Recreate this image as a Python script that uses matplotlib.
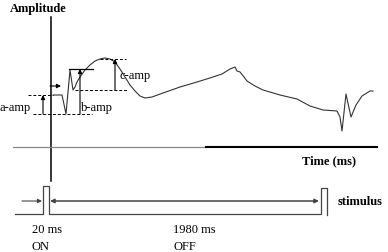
import matplotlib.pyplot as plt

# recorded response trace (x = horizontal position, y = screen height, down is positive)
trace_x = [53, 62, 66, 70, 73, 75, 77, 80, 85, 90, 95, 100, 105, 110, 115, 120, 125, 130,
           135, 140, 145, 152, 163, 180, 197, 213, 222, 230, 235, 237, 240, 244, 247, 255,
           263, 280, 297, 310, 323, 337, 340, 342, 346, 351, 356, 362, 370, 373]
trace_y = [96, 96, 115, 71, 91, 88, 83, 78, 71, 66, 62, 60, 59, 60, 63, 70, 78, 86,
           92, 97, 99, 98, 94, 88, 83, 78, 75, 70, 68, 72, 73, 78, 82, 87,
           91, 96, 100, 107, 111, 112, 118, 132, 95, 118, 106, 97, 92, 92]

# stimulus timeline: 20 ms ON, 1980 ms OFF
stim_x = [15, 43, 43, 49, 49, 321, 321, 327, 327]
stim_y = [215, 215, 187, 187, 215, 215, 189, 189, 216]

# amplitude markers: (name, x of arrow, bottom, top)
amp_names = ['a-amp', 'b-amp', 'c-amp']
amp_x = [43, 80, 115]
amp_low = [115, 115, 91]
amp_high = [96, 70, 60]

plt.rcParams['font.family'] = ['Liberation Serif', 'DejaVu Serif']

fig = plt.figure(figsize=(3.88, 2.53), dpi=100)
ax = fig.add_axes([0, 0, 1, 1])
ax.set_xlim(0, 388)
ax.set_ylim(253, 0)
ax.axis('off')

# axes of the diagram
ax.plot([51, 51], [18, 182], color='black', lw=1.1)
ax.plot([13, 206], [148, 148], color='#888888', lw=0.9)
ax.plot([206, 377], [148, 148], color='black', lw=1.5)

ax.plot(trace_x, trace_y, color='#333333', lw=0.8)

# dashed reference lines
dash = dict(color='black', lw=0.7, ls=(0, (3, 2)))
ax.plot([28, 53], [amp_high[0], amp_high[0]], **dash)
ax.plot([33, 92], [amp_low[0], amp_low[0]], **dash)
ax.plot([100, 126], [amp_high[2], amp_high[2]], **dash)
ax.plot([75, 128], [amp_low[2], amp_low[2]], **dash)
ax.plot([69, 93], [amp_high[1], amp_high[1]], color='black', lw=0.9)

arrow = dict(arrowstyle='-|>', color='black', lw=0.8, mutation_scale=6, shrinkA=0, shrinkB=0)
for x, lo, hi in zip(amp_x, amp_low, amp_high):
    ax.annotate('', xy=(x, hi), xytext=(x, lo), arrowprops=arrow)
ax.annotate('', xy=(61, 87), xytext=(50, 87), arrowprops=arrow)

ax.text(0, 108, amp_names[0], fontsize=9, va='center')
ax.text(81, 108, amp_names[1], fontsize=9, va='center')
ax.text(120, 76, amp_names[2], fontsize=9, va='center')

ax.text(10, 9, 'Amplitude', fontsize=9, fontweight='bold', va='center')
ax.text(302, 161, 'Time (ms)', fontsize=9, fontweight='bold', va='center')

# stimulus
ax.plot(stim_x, stim_y, color='#444444', lw=0.9)
ax.annotate('', xy=(42, 202), xytext=(22, 202), arrowprops=dict(arrow, color='#444444'))
ax.annotate('', xy=(319, 202), xytext=(50, 202),
            arrowprops=dict(arrowstyle='<|-|>', color='#444444', lw=1.1, mutation_scale=6,
                            shrinkA=0, shrinkB=0))
ax.text(338, 202, 'stimulus', fontsize=9, fontweight='bold', va='center')

ax.text(32, 230, '20 ms', fontsize=9, va='center')
ax.text(32, 247, 'ON', fontsize=9, va='center')
ax.text(173, 230, '1980 ms', fontsize=9, va='center')
ax.text(173, 247, 'OFF', fontsize=9, va='center')

fig.savefig('out.png', dpi=100)
